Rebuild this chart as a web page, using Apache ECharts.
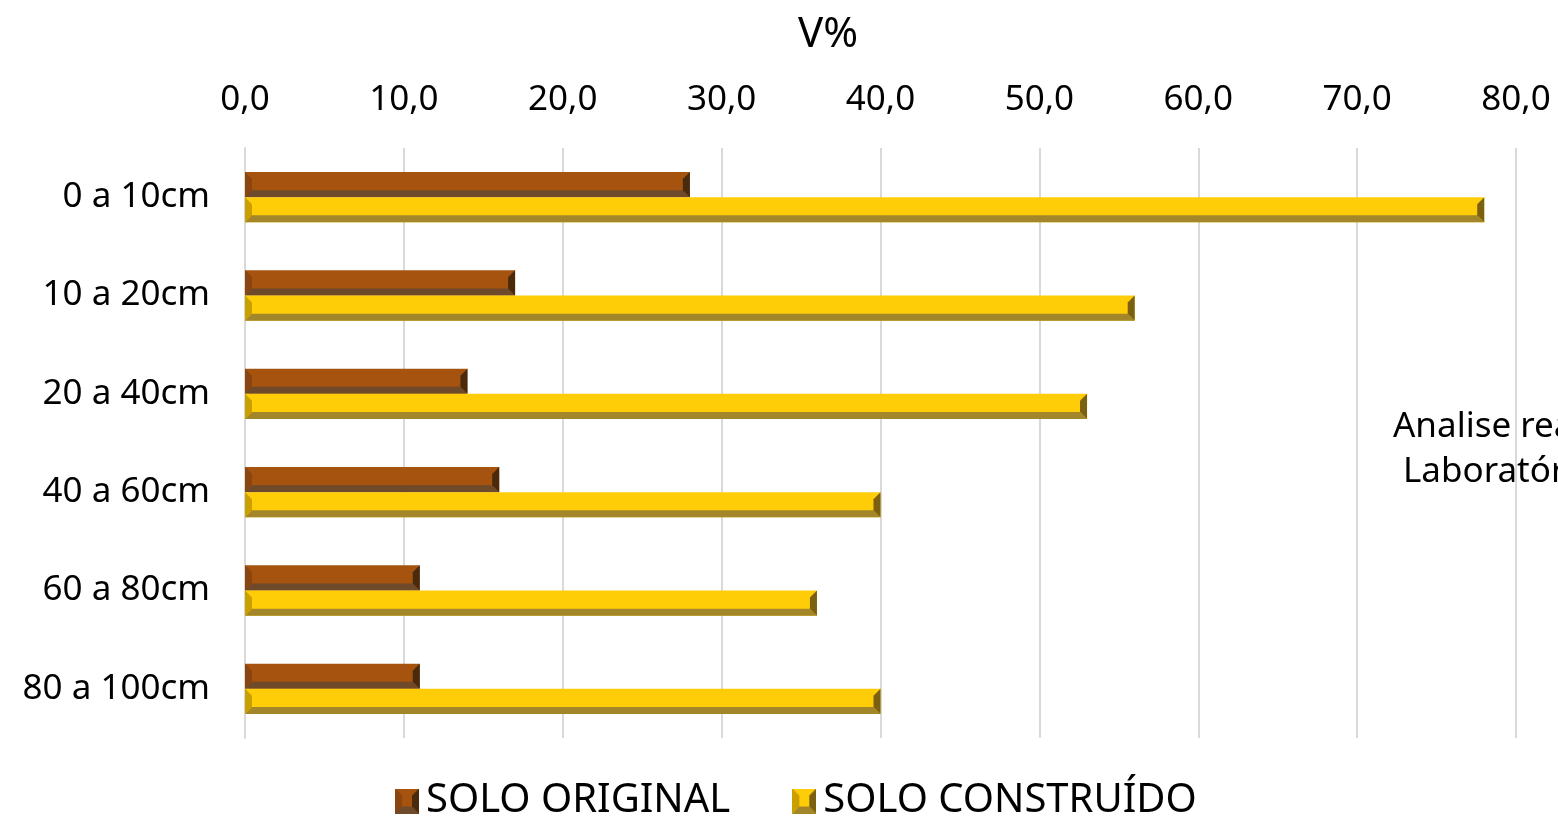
<!DOCTYPE html>
<html>
<head>
<meta charset="utf-8">
<script src="https://cdn.jsdelivr.net/npm/echarts@6/dist/echarts.min.js"></script>
<style>
  html, body { margin: 0; padding: 0; background: #fff; }
  #chart { width: 1558px; height: 816px; }
</style>
</head>
<body>
<div id="chart"></div>
<script>
// Soil depth layers and base saturation (V%) per soil type
const categories = ['0 a 10cm', '10 a 20cm', '20 a 40cm', '40 a 60cm', '60 a 80cm', '80 a 100cm'];
const soloOriginal = [28, 17, 14, 16, 11, 11];
const soloConstruido = [78, 56, 53, 40, 36, 40];
const seriesNames = ['SOLO ORIGINAL', 'SOLO CONSTRUÍDO'];
const axisTitle = 'V%';
const noteLines = ['Analise realizada em', 'Laboratório'];

const FONT = '"Noto Sans", sans-serif';

// Bevel palettes: main face, left face, right face, bottom face
const palettes = [
  { main: '#A5530F', left: '#8A4510', right: '#4A2A0C', bottom: '#6E4A2A' },
  { main: '#FFCC08', left: '#C9A000', right: '#7A6010', bottom: '#A3862A' }
];

function bevelShapes(x0, y0, x1, y1, b, pal) {
  const w = x1 - x0;
  b = Math.min(b, w / 2, (y1 - y0) / 2);
  return [
    { type: 'rect', shape: { x: x0, y: y0, width: w, height: y1 - y0 }, style: { fill: pal.main } },
    { type: 'polygon', shape: { points: [[x0, y0], [x0 + b, y0 + b], [x0 + b, y1 - b], [x0, y1]] }, style: { fill: pal.left } },
    { type: 'polygon', shape: { points: [[x0, y1], [x0 + b, y1 - b], [x1 - b, y1 - b], [x1, y1]] }, style: { fill: pal.bottom } },
    { type: 'polygon', shape: { points: [[x1, y0], [x1, y1], [x1 - b, y1 - b], [x1 - b, y0 + b]] }, style: { fill: pal.right } }
  ];
}

function makeRender(seriesIdx) {
  const pal = palettes[seriesIdx];
  return function (params, api) {
    const ci = api.value(1);
    const v = api.value(0);
    const start = api.coord([0, ci]);
    const end = api.coord([v, ci]);
    const band = api.size([0, 1])[1];
    const h = band * 0.256;
    const y0 = seriesIdx === 0 ? start[1] - h : start[1];
    return { type: 'group', children: bevelShapes(start[0], y0, end[0], y0 + h, 7, pal) };
  };
}

// Legend icons with the same bevel look, drawn on a small canvas
function iconUrl(pal) {
  const c = document.createElement('canvas');
  c.width = 24; c.height = 25;
  const g = c.getContext('2d');
  const poly = (pts, fill) => { g.fillStyle = fill; g.beginPath(); g.moveTo(pts[0][0], pts[0][1]); pts.slice(1).forEach(p => g.lineTo(p[0], p[1])); g.closePath(); g.fill(); };
  const b = 7, W = 24, H = 25;
  g.fillStyle = pal.main; g.fillRect(0, 0, W, H);
  poly([[0, 0], [b, b], [b, H - b], [0, H]], pal.left);
  poly([[0, H], [b, H - b], [W - b, H - b], [W, H]], pal.bottom);
  poly([[W, 0], [W, H], [W - b, H - b], [W - b, b]], pal.right);
  return 'image://' + c.toDataURL();
}

const chart = echarts.init(document.getElementById('chart'), null, { renderer: 'canvas' });

chart.setOption({
  backgroundColor: '#fff',
  animation: false,
  title: {
    text: axisTitle,
    left: 793, top: 9,
    textStyle: { fontFamily: FONT, fontSize: 42, fontWeight: 'normal', color: '#000' }
  },
  legend: {
    left: 390, top: 776,
    itemWidth: 24, itemHeight: 25, itemGap: 62,
    textStyle: { fontFamily: FONT, fontSize: 40, color: '#000', padding: [0, 0, 0, 2] },
    data: [
      { name: seriesNames[0], icon: iconUrl(palettes[0]) },
      { name: seriesNames[1], icon: iconUrl(palettes[1]) }
    ]
  },
  grid: { left: 245, right: 42, top: 148, bottom: 78, containLabel: false },
  xAxis: {
    type: 'value', position: 'top', min: 0, max: 80, interval: 10,
    axisLine: { show: false }, axisTick: { show: false },
    axisLabel: {
      margin: 30, fontFamily: FONT, fontSize: 35, color: '#000',
      formatter: v => v.toFixed(1).replace('.', ',')
    },
    splitLine: { show: true, lineStyle: { color: '#D9D9D9', width: 2 } }
  },
  yAxis: {
    type: 'category', data: categories, inverse: true,
    axisLine: { show: true, lineStyle: { color: '#D9D9D9', width: 2 } },
    axisTick: { show: false },
    axisLabel: { margin: 35, fontFamily: FONT, fontSize: 35, color: '#000' }
  },
  graphic: [
    { type: 'text', left: 1393, top: 410, style: { text: noteLines[0], font: '35px ' + FONT, fill: '#000' } },
    { type: 'text', left: 1403, top: 455, style: { text: noteLines[1], font: '35px ' + FONT, fill: '#000' } }
  ],
  series: [
    {
      name: seriesNames[0], type: 'custom', renderItem: makeRender(0),
      itemStyle: { color: palettes[0].main },
      encode: { x: 0, y: 1 },
      data: soloOriginal.map((v, i) => [v, i])
    },
    {
      name: seriesNames[1], type: 'custom', renderItem: makeRender(1),
      itemStyle: { color: palettes[1].main },
      encode: { x: 0, y: 1 },
      data: soloConstruido.map((v, i) => [v, i])
    }
  ]
});
</script>
</body>
</html>
